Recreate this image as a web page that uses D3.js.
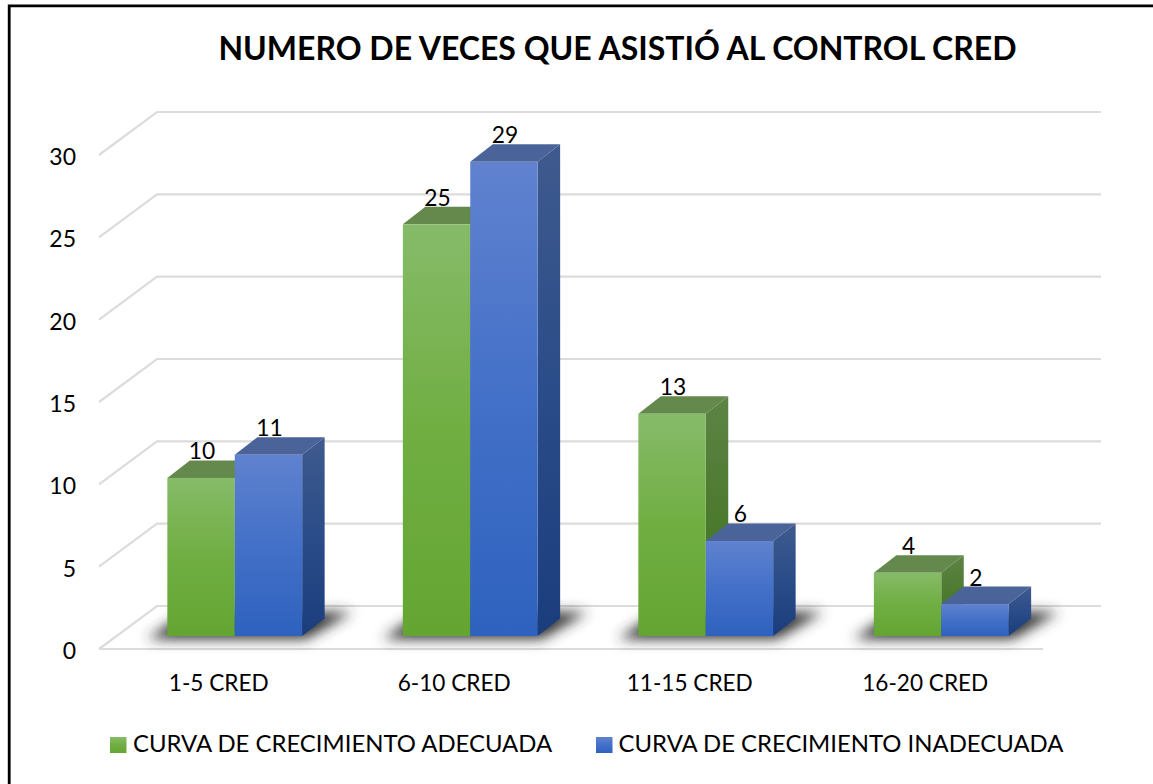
<!DOCTYPE html>
<html>
<head>
<meta charset="utf-8">
<style>
  html,body { margin:0; padding:0; background:#fff; }
  svg { display:block; }
  text { font-family: Lato, "Open Sans", sans-serif; fill:#000; }
</style>
<script src="https://cdnjs.cloudflare.com/ajax/libs/d3/7.8.5/d3.min.js"></script>
</head>
<body>
<div id="chart"></div>
<script>
// values, labels as printed on the bars
const categories = ["1-5 CRED", "6-10 CRED", "11-15 CRED", "16-20 CRED"];
const seriesNames = ["CURVA DE CRECIMIENTO ADECUADA", "CURVA DE CRECIMIENTO INADECUADA"];
const adecuada = [9.6, 25, 13.5, 3.84];
const inadecuada = [11, 28.8, 5.77, 1.94];
const adecuadaLabels = ["10", "25", "13", "4"];
const inadecuadaLabels = ["11", "29", "6", "2"];
const yTicks = [0, 5, 10, 15, 20, 25, 30];
const chartTitle = "NUMERO DE VECES QUE ASISTIÓ AL CONTROL CRED";

const width = 1153, height = 784;
const svg = d3.select("#chart").append("svg").attr("width", width).attr("height", height);

const x = d3.scaleBand().domain(categories).range([100, 1042]);
const y = d3.scaleLinear().domain([0, 30]).range([649, 155]);

// fake 3d offsets
const floorL = 99, floorR = 1043;
const wall = {dx: 58, dy: -43};
const barOff = {dx: 17, dy: -13};
const barDepth = {dx: 22.5, dy: -17.5};
const barW = 67.4;

const defs = svg.append("defs");
function gradient(id, stops, x2, y2) {
  const g = defs.append("linearGradient").attr("id", id)
    .attr("x1", 0).attr("y1", 0).attr("x2", x2 === undefined ? 0 : x2).attr("y2", y2 === undefined ? 1 : y2);
  stops.forEach((c, i) => g.append("stop").attr("offset", i / (stops.length - 1)).attr("stop-color", c));
}
gradient("greenFront", ["#86BB69", "#70AE42", "#64A532"]);
gradient("blueFront", ["#6082CF", "#4370C8", "#2E62BE"]);
gradient("greenSide", ["#5D8345", "#4C7A2E", "#3F7020"]);
gradient("blueSide", ["#3F5A8E", "#2A4C88", "#1C3D7C"]);
defs.append("filter").attr("id", "blur").attr("x", "-30%").attr("y", "-100%").attr("width", "160%").attr("height", "300%")
  .append("feGaussianBlur").attr("stdDeviation", 6.5);

const colors = [
  {front: "url(#greenFront)", side: "url(#greenSide)", top: "#65894D"},
  {front: "url(#blueFront)", side: "url(#blueSide)", top: "#4A6398"}
];

// frame, only the top and left edges are inside the picture
svg.append("path").attr("d", `M9.2,${height}V5.8H${width}`)
  .attr("fill", "none").attr("stroke", "#000").attr("stroke-width", 2.8);

// gridlines: side wall + back wall
const grid = svg.append("g").attr("fill", "none").attr("stroke", "#DCDCDC").attr("stroke-width", 2.2);
yTicks.forEach(t => {
  const path = d3.path();
  path.moveTo(floorL, y(t));
  path.lineTo(floorL + wall.dx, y(t) + wall.dy);
  path.lineTo(floorR + wall.dx, y(t) + wall.dy);
  grid.append("path").attr("d", path.toString());
});
grid.append("line").attr("x1", floorL).attr("x2", floorR).attr("y1", y(0)).attr("y2", y(0));

// y axis labels
const yAxis = d3.axisLeft(y).tickValues(yTicks).tickSize(0).tickPadding(0);
const yG = svg.append("g").attr("transform", "translate(76,0)").call(yAxis);
yG.select(".domain").remove();
yG.selectAll("text").attr("font-size", 23).style("font-family", "Lato").attr("fill", "#000").attr("dy", "9.5px");

// x axis labels
const xAxis = d3.axisBottom(x).tickSize(0).tickPadding(0);
const xG = svg.append("g").attr("transform", "translate(1,691)").call(xAxis);
xG.select(".domain").remove();
xG.selectAll("text").attr("font-size", 22.6).style("font-family", "Lato").attr("fill", "#000").attr("y", 0).attr("dy", 0);

const bars = svg.append("g");
const base = y(0) + barOff.dy;

// floor shadows first so they sit under all the bars
categories.forEach(c => {
  const x0 = x(c) + x.bandwidth() / 2 + barOff.dx - barW;
  const x1 = x0 + 2 * barW;
  const pts = [[x0 - 20, base + 3], [x1 + 4, base + 3], [x1 + 50, base - 24], [x0 + 20, base - 24]];
  bars.append("polygon").attr("points", pts.join(" ")).attr("fill", "#303030").attr("filter", "url(#blur)");
});

function drawBar(x0, v, col) {
  const top = y(v) + barOff.dy;
  const d = barDepth;
  bars.append("polygon")
    .attr("points", [[x0 + barW, top], [x0 + barW + d.dx, top + d.dy], [x0 + barW + d.dx, base + d.dy], [x0 + barW, base]].join(" "))
    .attr("fill", col.side);
  bars.append("polygon")
    .attr("points", [[x0, top], [x0 + d.dx, top + d.dy], [x0 + barW + d.dx, top + d.dy], [x0 + barW, top]].join(" "))
    .attr("fill", col.top);
  bars.append("rect").attr("x", x0).attr("y", top).attr("width", barW).attr("height", base - top)
    .attr("fill", col.front);
}

categories.forEach((c, i) => {
  const left = x(c) + x.bandwidth() / 2 + barOff.dx - barW;
  drawBar(left, adecuada[i], colors[0]);
  drawBar(left + barW, inadecuada[i], colors[1]);
});

// value labels on top so the bars never cover them
categories.forEach((c, i) => {
  const left = x(c) + x.bandwidth() / 2 + barOff.dx - barW;
  [[adecuada, adecuadaLabels, 0], [inadecuada, inadecuadaLabels, 1]].forEach(([vals, labs, k]) => {
    svg.append("text")
      .attr("x", left + k * barW + barW / 2 + 1)
      .attr("y", y(vals[i]) + barOff.dy + barDepth.dy - 1)
      .attr("text-anchor", "middle").attr("font-size", 22.8)
      .text(labs[i]);
  });
});

// title
svg.append("text").attr("x", 617.5).attr("y", 60).attr("text-anchor", "middle")
  .attr("font-size", 32).attr("font-weight", 700).text(chartTitle);

// legend
const legendX = [110, 596], legendTextX = [133, 618.6];
seriesNames.forEach((name, i) => {
  svg.append("rect").attr("x", legendX[i]).attr("y", 737).attr("width", 16.5).attr("height", 16)
    .attr("fill", colors[i].front);
  svg.append("text").attr("x", legendTextX[i]).attr("y", 752).attr("font-size", 23.9).text(name);
});
</script>
</body>
</html>
